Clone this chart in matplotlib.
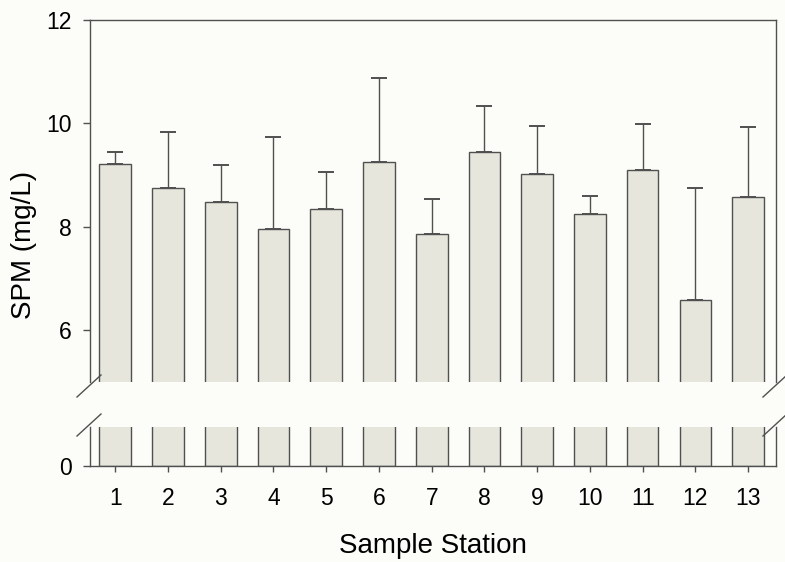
import matplotlib
matplotlib.use('Agg')
import matplotlib.pyplot as plt
import numpy as np

plt.rcParams['font.family'] = ['Liberation Sans', 'DejaVu Sans']

stations = [1, 2, 3, 4, 5, 6, 7, 8, 9, 10, 11, 12, 13]
spm_mean = [9.22, 8.76, 8.49, 7.95, 8.35, 9.26, 7.87, 9.45, 9.03, 8.24, 9.10, 6.58, 8.58]
spm_top = [9.45, 9.84, 9.20, 9.74, 9.07, 10.88, 8.53, 10.34, 9.95, 8.60, 9.99, 8.76, 9.93]

err_up = np.array(spm_top) - np.array(spm_mean)
err_lo = np.zeros(len(stations))

bar_color = '#e6e6dc'
edge = '#505050'
bg = '#fcfcf8'

fig = plt.figure(figsize=(7.85, 5.62), dpi=100, facecolor=bg)
ax_top = fig.add_axes([0.1146, 0.3203, 0.874, 0.6441])
ax_bot = fig.add_axes([0.1146, 0.1708, 0.874, 0.0694])

for ax in (ax_top, ax_bot):
    ax.set_facecolor(bg)
    ax.bar(stations, spm_mean, width=0.6, color=bar_color, edgecolor=edge, linewidth=1.0)
    ax.set_xlim(0.52, 13.53)
    for s in ax.spines.values():
        s.set_color(edge)
        s.set_linewidth(1.0)
    ax.tick_params(direction='out', length=5, width=1, color=edge, labelsize=16.5, pad=8)

ax_top.errorbar(stations, spm_mean, yerr=[err_lo, err_up], fmt='none', ecolor=edge,
                elinewidth=1.0, capsize=6, capthick=1.4)

ax_top.set_ylim(5.0, 12)
ax_top.set_yticks([6, 8, 10, 12])
ax_top.spines['bottom'].set_visible(False)
ax_top.tick_params(axis='x', bottom=False, labelbottom=False)

ax_bot.set_ylim(0, 0.75)
ax_bot.set_yticks([0])
ax_bot.spines['top'].set_visible(False)
ax_bot.set_xticks(stations)
ax_bot.tick_params(axis='x', length=4, pad=11)
ax_bot.set_xlabel('Sample Station', fontsize=20, labelpad=17)

fig.text(0.031, 0.565, 'SPM (mg/L)', rotation=90, fontsize=20, ha='center', va='center')

# break marks on both spines
fw, fh = fig.get_size_inches() * fig.dpi
def brk(x_px, y_px):
    dx, dy = 12, 11
    fig.add_artist(plt.Line2D([(x_px - dx) / fw, (x_px + dx) / fw],
                              [1 - (y_px + dy) / fh, 1 - (y_px - dy) / fh],
                              color=edge, lw=1.0))

for xp in (89, 775):
    brk(xp, 386)
    brk(xp, 425)

fig.savefig('out.png', dpi=100, facecolor=bg)
